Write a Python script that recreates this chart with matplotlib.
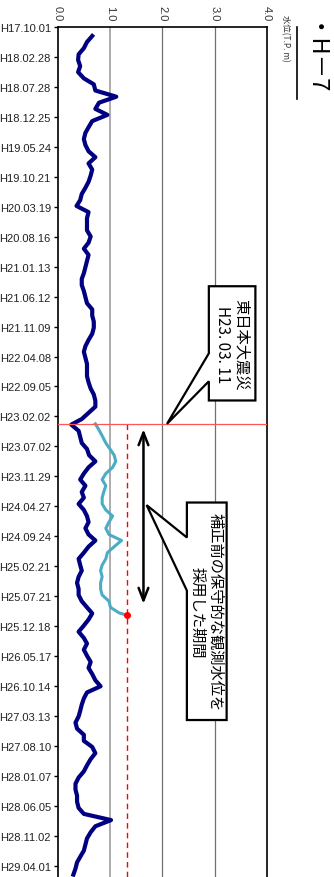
import matplotlib
matplotlib.use("Agg")
from matplotlib import pyplot as plt
from matplotlib.patches import Polygon
import matplotlib.dates as mdates
import pandas as pd

plt.rcParams['font.family'] = ['Liberation Sans', 'Noto Sans CJK JP', 'DejaVu Sans']

# 水位 (T.P. m) 月ごとの読み取り値 2005-11 .. 2017-05
fechas_h7 = pd.date_range('2005-11-01', periods=139, freq='MS') + pd.Timedelta(days=14)
nivel_h7 = [0.66, 0.56, 0.50, 0.40, 0.39, 0.43, 0.39, 0.50, 0.69, 0.72,
            1.12, 0.79, 0.72, 0.95, 0.66, 0.59, 0.53, 0.50, 0.53, 0.59,
            0.72, 0.59, 0.66, 0.63, 0.59, 0.53, 0.46, 0.43, 0.36, 0.59,
            0.56, 0.56, 0.56, 0.63, 0.59, 0.50, 0.59, 0.56, 0.53, 0.50,
            0.46, 0.46, 0.50, 0.53, 0.56, 0.66, 0.66, 0.69, 0.69, 0.66,
            0.59, 0.53, 0.50, 0.53, 0.56, 0.56, 0.56, 0.59, 0.63, 0.69,
            0.72, 0.72, 0.59, 0.46, 0.26, 0.40, 0.43, 0.46, 0.56, 0.60,
            0.72, 0.59, 0.50, 0.43, 0.53, 0.46, 0.50, 0.40, 0.50, 0.56,
            0.59, 0.53, 0.59, 0.72, 0.59, 0.50, 0.40, 0.43, 0.46, 0.40,
            0.37, 0.40, 0.40, 0.46, 0.56, 0.66, 0.59, 0.50, 0.40, 0.50,
            0.56, 0.50, 0.56, 0.63, 0.59, 0.66, 0.72, 0.82, 0.56, 0.50,
            0.46, 0.43, 0.40, 0.34, 0.37, 0.50, 0.50, 0.66, 0.72, 0.63,
            0.56, 0.50, 0.40, 0.34, 0.34, 0.37, 0.37, 0.40, 0.50, 1.02,
            0.72, 0.63, 0.56, 0.53, 0.50, 0.43, 0.37, 0.34, 0.30]

# 補正前の保守的な観測水位
fechas_previo = (['2011-03-11']
                 + [d.strftime('%Y-%m-%d') for d in pd.date_range('2011-04-01', periods=30, freq='MS') + pd.Timedelta(days=14)]
                 + ['2013-10-12', '2013-10-25'])
nivel_previo = [0.72, 0.80, 0.86, 0.92, 1.00, 1.08, 1.11, 1.05, 0.92, 0.85,
                0.92, 0.88, 0.85, 0.85, 0.92, 1.05, 0.98, 0.92, 0.98, 1.22,
                1.08, 0.95, 0.92, 0.85, 0.82, 0.85, 0.82, 0.82, 0.85, 0.98,
                1.01, 1.17, 1.33]

ticks_fecha = pd.date_range('2005-10-01', periods=29, freq='150D')
etiquetas_fecha = ['H17.10.01', 'H18.02.28', 'H18.07.28', 'H18.12.25', 'H19.05.24',
                   'H19.10.21', 'H20.03.19', 'H20.08.16', 'H21.01.13', 'H21.06.12',
                   'H21.11.09', 'H22.04.08', 'H22.09.05', 'H23.02.02', 'H23.07.02',
                   'H23.11.29', 'H24.04.27', 'H24.09.24', 'H25.02.21', 'H25.07.21',
                   'H25.12.18', 'H26.05.17', 'H26.10.14', 'H27.03.13', 'H27.08.10',
                   'H28.01.07', 'H28.06.05', 'H28.11.02', 'H29.04.01']
ticks_nivel = [0.0, 1.0, 2.0, 3.0, 4.0]
terremoto = pd.Timestamp('2011-03-11')

W, H = 334, 878
fig = plt.figure(figsize=(W / 100, H / 100), dpi=100)
ax = fig.add_axes([57.7 / W, 0, (266.9 - 57.7) / W, 1 - 28 / H])

fp = pd.to_datetime(fechas_previo)
ax.plot(nivel_h7, fechas_h7, color='#000080', lw=3.0, zorder=4)
ax.plot(nivel_previo, fp, color='#4BACC6', lw=2.2, zorder=4)
ax.plot(nivel_previo[-1], fp[-1], 'o', color='red', ms=4, zorder=6)
ax.plot([nivel_previo[-1]] * 2, [fp[0], pd.Timestamp('2017-06-30')], color='red', lw=1, ls=(0, (4, 3)), zorder=3)

ax.axvline(1.0, color='#A6A6A6', lw=1.3, zorder=1)
for v in (2.0, 3.0):
    ax.axvline(v, color='#707070', lw=0.9, zorder=1)
ax.axhline(terremoto, color='#FF5555', lw=0.9, zorder=5)

ax.set_xlim(0, 4)
ax.set_ylim(pd.Timestamp('2017-05-27'), pd.Timestamp('2005-10-01'))
ax.xaxis.tick_top()
ax.set_xticks(ticks_nivel)
ax.set_xticklabels([f'{v:.1f}' for v in ticks_nivel], rotation=-90, fontsize=8, color='#333333')
ax.tick_params(axis='x', length=0, pad=5)
ax.set_yticks(ticks_fecha)
ax.set_yticklabels(etiquetas_fecha, fontsize=8, color='#222222')
ax.tick_params(axis='y', direction='out', length=3, width=1, pad=2)
for s in ('left', 'top', 'right'):
    ax.spines[s].set_color('black')
    ax.spines[s].set_linewidth(1.2)
ax.spines['bottom'].set_visible(False)

# 両矢印
ax.annotate('', xy=(1.64, pd.Timestamp('2011-03-24')), xytext=(1.64, pd.Timestamp('2013-09-11')),
            arrowprops=dict(arrowstyle='<->,head_length=0.9,head_width=0.35', color='black', lw=1.8),
            zorder=7)

def globo(x0, x1, f0, f1, fa, fb, punta, texto, size):
    y0, y1, ya, yb = [mdates.date2num(pd.Timestamp(f)) for f in (f0, f1, fa, fb)]
    tip = (punta[0], mdates.date2num(pd.Timestamp(punta[1])))
    pts = [(x0, y0), (x1, y0), (x1, y1), (x0, y1), (x0, yb), tip, (x0, ya)]
    ax.add_patch(Polygon(pts, closed=True, facecolor='white', edgecolor='black', lw=1.6, zorder=8))
    ax.text((x0 + x1) / 2, (y0 + y1) / 2, texto, rotation=-90, ha='center', va='center',
            fontsize=size, family=['Noto Sans CJK JP', 'DejaVu Sans'], linespacing=1.1,
            multialignment='center', zorder=9)

globo(2.89, 3.78, '2009-04-21', '2010-11-14', '2010-03-23', '2010-08-10', (2.09, '2011-03-11'),
      '東日本大震災\nH23. 03. 11', 11)
globo(2.47, 3.23, '2012-04-08', '2015-04-02', '2012-09-30', '2013-06-23', (1.70, '2012-04-21'),
      '補正前の保守的な観測水位を\n採用した期間', 11)

fig.text(285 / W, 1 - 38 / H, '水位(T.P. m)', rotation=-90, ha='center', va='center', fontsize=6,
         family=['Noto Sans CJK JP', 'DejaVu Sans'], color='#333333')
fig.text(309 / W, 1 - 62 / H, '・H－7', rotation=-90, ha='center', va='center', fontsize=17,
         family=['Noto Sans CJK JP', 'DejaVu Sans'])
fig.add_artist(plt.Line2D([297 / W, 297 / W], [1 - 28 / H, 1 - 100 / H], color='black', lw=1.2))

fig.savefig('out.png', dpi=100)
